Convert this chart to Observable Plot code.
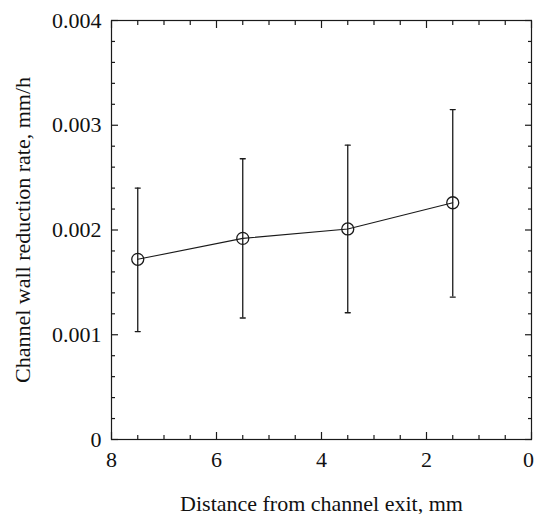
<!DOCTYPE html>
<html><head><meta charset="utf-8">
<script src="https://cdn.jsdelivr.net/npm/d3@7"></script>
<script src="https://cdn.jsdelivr.net/npm/@observablehq/plot@0.6"></script>
<style>body{margin:0;background:#fff}</style>
</head><body><div id="chart"></div>
<script>
const distance = [7.5, 5.5, 3.5, 1.5];
const rate = [0.00172, 0.00192, 0.00201, 0.00226];
const rateLow = [0.00103, 0.00116, 0.00121, 0.00136];
const rateHigh = [0.00240, 0.00268, 0.00281, 0.00315];
const xMajorTicks = [0, 2, 4, 6, 8];
const xLabeledTicks = [2, 4, 6, 8];
const xEdgeTick = [0];
const xMinorTicks = [0.5, 1, 1.5, 2.5, 3, 3.5, 4.5, 5, 5.5, 6.5, 7, 7.5];
const yMajorTicks = [0, 0.001, 0.002, 0.003, 0.004];
const yMinorTicks = [0.0002, 0.0004, 0.0006, 0.0008, 0.0012, 0.0014, 0.0016, 0.0018,
  0.0022, 0.0024, 0.0026, 0.0028, 0.0032, 0.0034, 0.0036, 0.0038];
const xLabel = "Distance from channel exit, mm";
const yLabel = "Channel wall reduction rate, mm/h";

const data = distance.map((d, i) => ({distance: d, rate: rate[i], low: rateLow[i], high: rateHigh[i]}));
const capShape = {draw(context, l) { context.moveTo(0, 0); context.lineTo(0, -l); }};
const ink = "#1a1a1a";
const blank = {tickFormat: () => "", label: null, stroke: ink, strokeWidth: 1.2};

const chart = Plot.plot({
  width: 534, height: 514,
  marginLeft: 111, marginRight: 3, marginTop: 20, marginBottom: 75,
  style: {fontFamily: "'Liberation Serif', 'Times New Roman', serif", fontSize: "22px", color: "#111", background: "#fff"},
  x: {domain: [8, 0]},
  y: {domain: [0, 0.004]},
  marks: [
    Plot.axisX(xMinorTicks, {anchor: "bottom", tickSize: -4, ...blank}),
    Plot.axisX(xMinorTicks, {anchor: "top", tickSize: -4, ...blank}),
    Plot.axisX(xMajorTicks, {anchor: "bottom", tickSize: -7, ...blank}),
    Plot.axisX(xMajorTicks, {anchor: "top", tickSize: -7, ...blank}),
    Plot.axisY(yMinorTicks, {anchor: "left", tickSize: -4, ...blank}),
    Plot.axisY(yMinorTicks, {anchor: "right", tickSize: -4, ...blank}),
    Plot.axisY(yMajorTicks, {anchor: "left", tickSize: -7, ...blank}),
    Plot.axisY(yMajorTicks, {anchor: "right", tickSize: -7, ...blank}),
    Plot.axisX(xLabeledTicks, {anchor: "bottom", tickSize: 0, tickPadding: 12, tickFormat: d => String(d),
      label: xLabel, labelAnchor: "center", labelOffset: 71, labelArrow: "none"}),
    Plot.axisX(xEdgeTick, {anchor: "bottom", tickSize: 0, tickPadding: 12, tickFormat: d => String(d),
      label: null, dx: -3}),
    Plot.axisY(yMajorTicks, {anchor: "left", tickSize: 0, tickPadding: 10, tickFormat: d => d === 0 ? "0" : d.toFixed(3),
      label: yLabel, labelAnchor: "center", labelOffset: 97, labelArrow: "none"}),
    Plot.frame({stroke: ink, strokeWidth: 1.2}),
    Plot.line(data, {x: "distance", y: "rate", stroke: ink, strokeWidth: 1.1}),
    Plot.ruleX(data, {x: "distance", y1: "low", y2: "high", stroke: ink, strokeWidth: 1.3}),
    Plot.vector(data, {x: "distance", y: "low", length: 5, rotate: 90, anchor: "middle", shape: capShape, stroke: ink, strokeWidth: 1.3}),
    Plot.vector(data, {x: "distance", y: "high", length: 5, rotate: 90, anchor: "middle", shape: capShape, stroke: ink, strokeWidth: 1.3}),
    Plot.dot(data, {x: "distance", y: "rate", r: 6, stroke: ink, fill: "none", strokeWidth: 1.3})
  ]
});
document.getElementById("chart").append(chart);
</script>
</body></html>
